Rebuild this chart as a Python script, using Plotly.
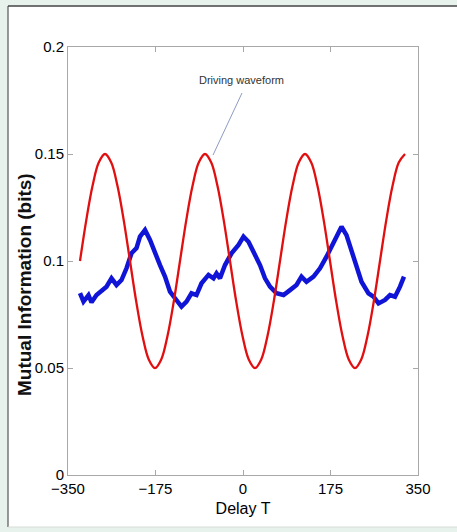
import plotly.graph_objects as go

# Driving waveform (red), sampled every 12.5 delay units
drive_delay = [-326 + 12.5 * i for i in range(53)]
drive_mi = [
    0.1, 0.119, 0.135, 0.146, 0.15, 0.146, 0.135, 0.119,
    0.1, 0.081, 0.065, 0.054, 0.05, 0.054, 0.065, 0.081,
    0.1, 0.119, 0.135, 0.146, 0.15, 0.146, 0.135, 0.119,
    0.1, 0.081, 0.065, 0.054, 0.05, 0.054, 0.065, 0.081,
    0.1, 0.119, 0.135, 0.146, 0.15, 0.146, 0.135, 0.119,
    0.1, 0.081, 0.065, 0.054, 0.05, 0.054, 0.065, 0.081,
    0.1, 0.119, 0.135, 0.146, 0.15,
]

# Measured mutual information vs delay (blue)
mi_delay = [
    -326, -319, -309, -303, -293, -283, -273, -263, -253, -243,
    -233, -223, -213, -206, -196, -186, -176, -166, -156, -146,
    -136, -123, -113, -103, -93, -83, -69, -59, -53, -46,
    -36, -23, -9, 1, 11, 24, 34, 44, 54, 67,
    81, 94, 107, 117, 127, 141, 154, 167, 181, 190,
    197, 207, 217, 227, 237, 251, 261, 271, 284, 294,
    304, 314, 322,
]
mi_bits = [
    0.085, 0.081, 0.084, 0.0807, 0.0841, 0.086, 0.088, 0.0919, 0.0888, 0.0911,
    0.0966, 0.1036, 0.106, 0.1114, 0.1145, 0.1098, 0.1036, 0.0981, 0.0927, 0.0857,
    0.0826, 0.0787, 0.081, 0.0849, 0.0841, 0.0896, 0.0935, 0.0919, 0.0942, 0.0919,
    0.0981, 0.1036, 0.1075, 0.1114, 0.109, 0.1028, 0.0981, 0.0919, 0.088, 0.0849,
    0.0841, 0.0864, 0.0888, 0.0927, 0.0903, 0.0927, 0.0966, 0.102, 0.1083, 0.113,
    0.116, 0.1121, 0.1044, 0.0966, 0.0903, 0.0849, 0.0833, 0.0802, 0.0818, 0.0841,
    0.0833, 0.088, 0.0927,
]

x_ticks = [-350, -175, 0, 175, 350]
y_ticks = [0, 0.05, 0.1, 0.15, 0.2]
y_tick_text = ["0", "0.05", "0.1", "0.15", "0.2"]

NARROW = "Liberation Sans Narrow, Arial Narrow, Liberation Sans, Arial, sans-serif"

# plot-area geometry in pixels (used to place page furniture)
L, R, T, B = 68, 418, 47, 475
W, H = R - L, B - T


def px(x):
    return (x - L) / W


def py(y):
    return (B - y) / H


fig = go.Figure()
fig.add_trace(go.Scatter(
    x=mi_delay, y=mi_bits, mode="lines",
    line=dict(color="rgb(15,20,215)", width=4.5),
    showlegend=False,
))
fig.add_trace(go.Scatter(
    x=drive_delay, y=drive_mi, mode="lines",
    line=dict(color="rgb(225,15,15)", width=2.3, shape="spline"),
    showlegend=False,
))

# white page panel with its frame
fig.add_shape(type="rect", xref="paper", yref="paper",
              x0=px(8), x1=px(470), y0=py(527), y1=py(6),
              fillcolor="white", line=dict(width=0), layer="below")
fig.add_shape(type="line", xref="paper", yref="paper",
              x0=px(8), x1=px(8), y0=py(527), y1=py(6),
              line=dict(color="#555", width=1.2))
fig.add_shape(type="line", xref="paper", yref="paper",
              x0=px(8), x1=px(470), y0=py(6), y1=py(6),
              line=dict(color="#444", width=1.5))
fig.add_shape(type="line", xref="paper", yref="paper",
              x0=px(8), x1=px(470), y0=py(527), y1=py(527),
              line=dict(color="#d8dcd9", width=1))

# pointer for the driving waveform label
fig.add_shape(type="line", x0=-2, y0=0.1785, x1=-60, y1=0.1495,
              line=dict(color="#8e9bc4", width=1))
fig.add_annotation(x=-4, y=0.1846, text="Driving waveform", showarrow=False,
                   font=dict(family=NARROW, size=11, color="#333"))

# y-axis title, placed by hand next to the tick labels
fig.add_annotation(xref="paper", yref="paper", x=px(24), y=py(285),
                   xanchor="center", yanchor="middle",
                   text="<b>Mutual Information (bits)</b>", showarrow=False,
                   textangle=-90,
                   font=dict(family="Liberation Sans, Arial, sans-serif", size=19, color="#111"))

axis_common = dict(
    showline=True, linecolor="#a8a8a8", linewidth=1, mirror="ticks",
    ticks="inside", ticklen=5, tickcolor="#a8a8a8", tickwidth=1,
    showgrid=False, zeroline=False,
    tickfont=dict(family=NARROW, size=15, color="#000"),
)

fig.update_xaxes(
    range=[-350, 350], tickvals=x_ticks,
    title=dict(text="Delay T", font=dict(family=NARROW, size=16, color="#000"), standoff=6),
    **axis_common,
)
fig.update_yaxes(
    range=[0, 0.2], tickvals=y_ticks, ticktext=y_tick_text,
    **axis_common,
)

fig.update_layout(
    width=457, height=532,
    margin=dict(l=L, r=457 - R, t=T, b=532 - B),
    paper_bgcolor="rgb(232,242,237)",
    plot_bgcolor="white",
)

fig.write_html("out.html")
